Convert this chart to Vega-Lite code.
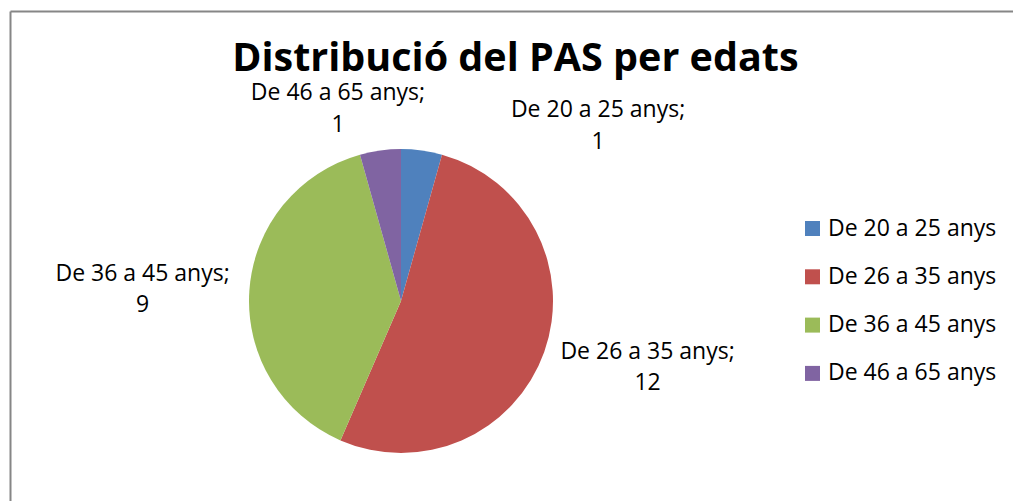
{
  "$schema": "https://vega.github.io/schema/vega-lite/v6.json",
  "autosize": {"type": "none"},
  "width": 1003,
  "height": 490,
  "padding": {"left": 10, "top": 11, "right": 0, "bottom": 0},
  "background": "white",
  "view": {"stroke": null, "fill": null},
  "config": {
    "view": {"stroke": null},
    "font": "Open Sans",
    "axis": {
      "domain": true,
      "domainColor": "#868686",
      "domainWidth": 2,
      "ticks": false,
      "labels": false,
      "grid": false,
      "title": null
    }
  },
  "title": {
    "text": "Distribució del PAS per edats",
    "font": "Open Sans",
    "fontSize": 39.5,
    "fontWeight": "bold",
    "color": "black",
    "anchor": "start",
    "baseline": "alphabetic",
    "offset": -63,
    "dx": 225,
    "dy": 39
  },
  "data": {
    "values": [
      {"edat": "De 20 a 25 anys", "n": 1},
      {"edat": "De 26 a 35 anys", "n": 12},
      {"edat": "De 36 a 45 anys", "n": 9},
      {"edat": "De 46 a 65 anys", "n": 1}
    ]
  },
  "transform": [
    {"stack": "n", "groupby": [], "sort": [{"field": "edat", "order": "ascending"}], "as": ["n0", "n1"]},
    {"calculate": "(datum.n0 + datum.n1) / 2", "as": "mid"},
    {"calculate": "[datum.edat + ';', '' + datum.n]", "as": "label"}
  ],
  "layer": [
    {
      "mark": {"type": "point", "opacity": 0},
      "encoding": {
        "x": {"datum": 0, "type": "quantitative", "scale": {"domain": [0, 1]}, "axis": {"orient": "top"}},
        "y": {"datum": 1, "type": "quantitative", "scale": {"domain": [0, 1]}, "axis": {"orient": "left"}}
      }
    },
    {
      "mark": {"type": "arc", "outerRadius": 152, "x": 391, "y": 290},
      "encoding": {
        "theta": {"field": "n0", "type": "quantitative", "scale": {"domain": [0, 23]}},
        "theta2": {"field": "n1"},
        "color": {
          "field": "edat",
          "type": "nominal",
          "scale": {
            "domain": ["De 20 a 25 anys", "De 26 a 35 anys", "De 36 a 45 anys", "De 46 a 65 anys"],
            "range": ["#4F81BD", "#C0504D", "#9BBB59", "#8064A2"]
          },
          "legend": {
            "title": null,
            "orient": "none",
            "legendX": 791,
            "legendY": 206,
            "padding": 0,
            "symbolType": "square",
            "symbolSize": 225,
            "symbolStrokeWidth": 0,
            "symbolOpacity": 1,
            "labelFont": "Open Sans",
            "labelFontSize": 23,
            "labelColor": "black",
            "labelOffset": 4,
            "labelLimit": 400,
            "rowPadding": 24.3
          }
        }
      }
    },
    {
      "transform": [{"filter": "datum.edat == 'De 20 a 25 anys'"}],
      "mark": {"type": "text", "x": 391, "y": 290, "radius": 250, "dx": 163, "dy": 64, "align": "center", "baseline": "alphabetic", "fontSize": 23, "lineHeight": 31.5, "color": "black"},
      "encoding": {"theta": {"field": "mid", "type": "quantitative"}, "text": {"field": "label"}}
    },
    {
      "transform": [{"filter": "datum.edat == 'De 26 a 35 anys'"}],
      "mark": {"type": "text", "x": 391, "y": 290, "radius": 250, "dx": 11, "dy": -26, "align": "center", "baseline": "alphabetic", "fontSize": 23, "lineHeight": 31.5, "color": "black"},
      "encoding": {"theta": {"field": "mid", "type": "quantitative"}, "text": {"field": "label"}}
    },
    {
      "transform": [{"filter": "datum.edat == 'De 36 a 45 anys'"}],
      "mark": {"type": "text", "x": 391, "y": 290, "radius": 250, "dx": -9, "dy": -3, "align": "center", "baseline": "alphabetic", "fontSize": 23, "lineHeight": 31.5, "color": "black"},
      "encoding": {"theta": {"field": "mid", "type": "quantitative"}, "text": {"field": "label"}}
    },
    {
      "transform": [{"filter": "datum.edat == 'De 46 a 65 anys'"}],
      "mark": {"type": "text", "x": 391, "y": 290, "radius": 250, "dx": -29, "dy": 47, "align": "center", "baseline": "alphabetic", "fontSize": 23, "lineHeight": 31.5, "color": "black"},
      "encoding": {"theta": {"field": "mid", "type": "quantitative"}, "text": {"field": "label"}}
    }
  ]
}
